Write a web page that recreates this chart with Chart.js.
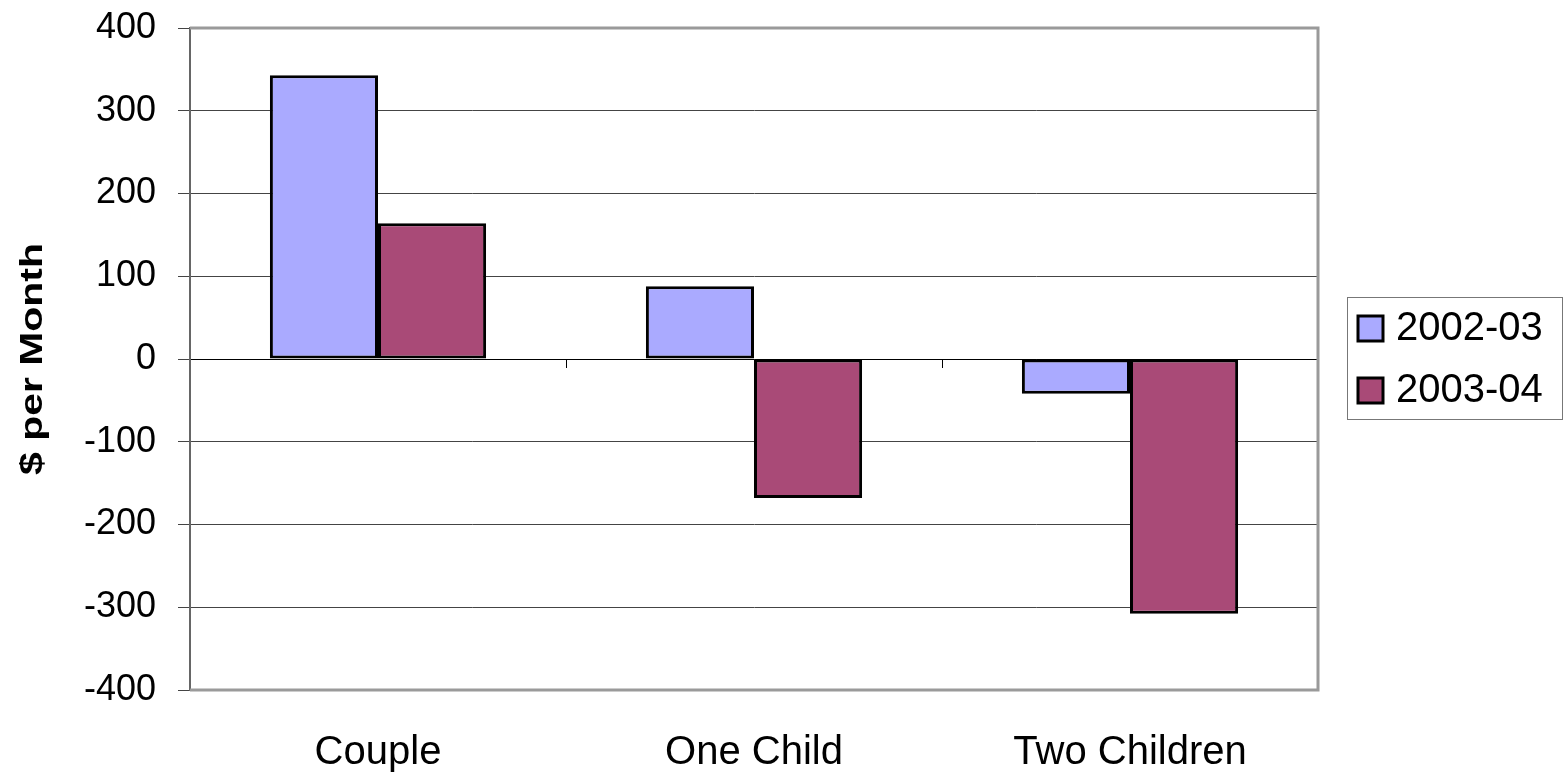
<!DOCTYPE html>
<html>
<head>
<meta charset="utf-8">
<script src="https://cdn.jsdelivr.net/npm/chart.js@4/dist/chart.umd.min.js"></script>
<style>
  html, body { margin: 0; padding: 0; background: #fff; }
  #chart { display: block; }
</style>
</head>
<body>
<canvas id="chart" width="1564" height="773"></canvas>
<script>
  /* data */
  var CATEGORIES = ["Couple", "One Child", "Two Children"];
  var SERIES_NAMES = ["2002-03", "2003-04"];
  var VALUES_2002 = [343, 88, -42];
  var VALUES_2003 = [164, -168, -308];
  var Y_MIN = -400, Y_MAX = 400, Y_STEP = 100;
  var Y_TITLE = "$ per Month";

  var FONT = "'Liberation Sans', Arial, sans-serif";
  var COLORS = ["#aaaaff", "#a94a77"];

  /* plot-area frame: grey top, right and bottom edges */
  var framePlugin = {
    id: "frame",
    afterDatasetsDraw: function (chart) {
      var a = chart.chartArea, ctx = chart.ctx;
      ctx.save();
      ctx.strokeStyle = "#9a9a9a";
      ctx.lineWidth = 3;
      ctx.beginPath();
      ctx.moveTo(a.left, a.top);
      ctx.lineTo(a.right, a.top);
      ctx.lineTo(a.right, a.bottom);
      ctx.lineTo(a.left, a.bottom);
      ctx.stroke();
      ctx.restore();
    }
  };

  /* rotated, widened y-axis title */
  var yTitlePlugin = {
    id: "yTitle",
    afterDraw: function (chart) {
      var a = chart.chartArea, ctx = chart.ctx;
      ctx.save();
      ctx.translate(33, (a.top + a.bottom) / 2);
      ctx.rotate(-Math.PI / 2);
      ctx.scale(1.32, 1);
      ctx.font = "bold 31px " + FONT;
      ctx.fillStyle = "#000";
      ctx.textAlign = "center";
      ctx.textBaseline = "middle";
      ctx.fillText(Y_TITLE, 0, 0);
      ctx.restore();
    }
  };

  /* boxed legend to the right of the plot */
  var legendPlugin = {
    id: "boxLegend",
    afterDraw: function (chart) {
      var ctx = chart.ctx;
      var bx = 1347, by = 297, bw = 215, bh = 122;
      ctx.save();
      ctx.strokeStyle = "#777";
      ctx.lineWidth = 1;
      ctx.strokeRect(bx + 0.5, by + 0.5, bw, bh);
      chart.data.datasets.forEach(function (ds, i) {
        var cy = 328 + i * 62;
        ctx.fillStyle = ds.backgroundColor;
        ctx.fillRect(1358, cy - 12, 25, 25);
        ctx.strokeStyle = "#000";
        ctx.lineWidth = 3;
        ctx.strokeRect(1358, cy - 12, 25, 25);
        ctx.fillStyle = "#000";
        ctx.font = "40px " + FONT;
        ctx.textAlign = "left";
        ctx.textBaseline = "middle";
        ctx.fillText(ds.label, 1396, cy + 1);
      });
      ctx.restore();
    }
  };

  new Chart(document.getElementById("chart"), {
    type: "bar",
    data: {
      labels: CATEGORIES,
      datasets: [
        { label: SERIES_NAMES[0], data: VALUES_2002, backgroundColor: COLORS[0] },
        { label: SERIES_NAMES[1], data: VALUES_2003, backgroundColor: COLORS[1] }
      ]
    },
    options: {
      responsive: false,
      devicePixelRatio: 1,
      animation: false,
      layout: { padding: { top: 28, right: 246, left: 0, bottom: 0 } },
      datasets: {
        bar: {
          categoryPercentage: 0.575,
          barPercentage: 1,
          borderColor: "#000",
          borderWidth: 3,
          borderSkipped: false
        }
      },
      plugins: {
        legend: { display: false },
        tooltip: { enabled: false }
      },
      scales: {
        x: {
          offset: true,
          grid: { display: false },
          border: { display: false },
          ticks: { color: "#000", font: { family: FONT, size: 40 }, padding: 31 },
          afterFit: function (s) { s.height = 83; s.paddingLeft = 0; s.paddingRight = 0; }
        },
        xZero: {
          type: "category",
          axis: "x",
          position: { y: 0 },
          offset: true,
          ticks: { display: false },
          grid: { offset: true, drawOnChartArea: false, color: "#000", tickLength: 8, lineWidth: 1 },
          border: { color: "#000", width: 1 },
          afterFit: function (s) { s.height = 0; }
        },
        y: {
          min: Y_MIN,
          max: Y_MAX,
          ticks: { stepSize: Y_STEP, color: "#000", font: { family: FONT, size: 36 }, padding: 22 },
          grid: { color: "#444", lineWidth: 1, tickLength: 12 },
          border: { color: "#666", width: 2 },
          afterFit: function (s) { s.width = 190; s.paddingTop = 0; s.paddingBottom = 0; }
        }
      }
    },
    plugins: [framePlugin, yTitlePlugin, legendPlugin]
  });
</script>
</body>
</html>
